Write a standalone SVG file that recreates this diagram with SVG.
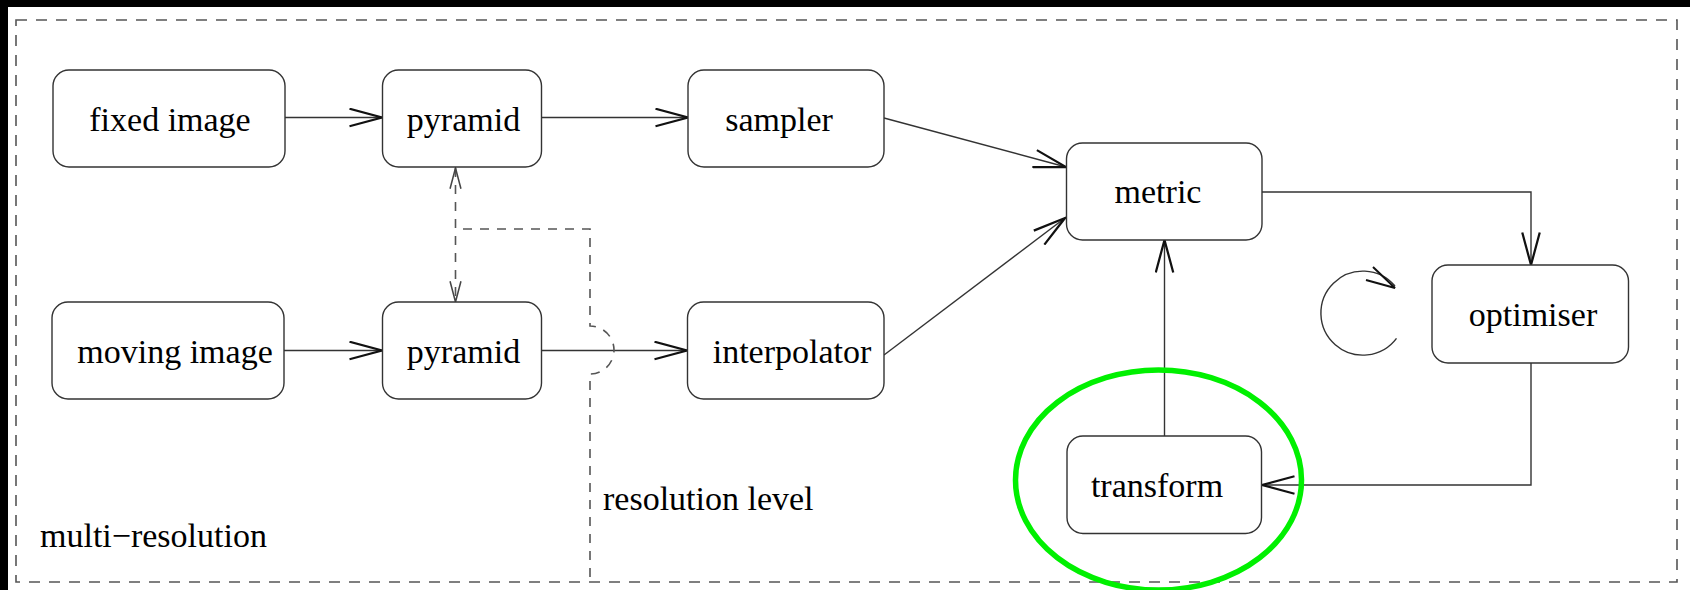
<svg xmlns="http://www.w3.org/2000/svg" width="1690" height="590" viewBox="0 0 1690 590">
<defs>
<style>
.node rect{fill:#fff;stroke:#333;stroke-width:1.4}
text{font-family:"Liberation Serif","Times New Roman",serif;font-size:34px;fill:#000}
.lbl{text-anchor:middle}
.conn{fill:none;stroke:#333;stroke-width:1.4}
.dash{fill:none;stroke:#555;stroke-width:1.6;stroke-dasharray:11 9}
.dash2{fill:none;stroke:#555;stroke-width:1.6;stroke-dasharray:9 8}
.head{fill:none;stroke:#111;stroke-width:1.8}
</style>
<marker id="ah" markerUnits="userSpaceOnUse" markerWidth="40" markerHeight="20" refX="27" refY="8" orient="auto" viewBox="0 0 30 16">
<path d="M1,1 L27,8 L1,15" class="head"/>
</marker>
<marker id="ahs" markerUnits="userSpaceOnUse" markerWidth="24" markerHeight="14" refX="20" refY="6" orient="auto-start-reverse" viewBox="0 0 22 12">
<path d="M1,1 L20,6 L1,11" fill="none" stroke="#444" stroke-width="1.4"/>
</marker>
</defs>
<rect x="0" y="0" width="1690" height="590" fill="#fff"/>
<rect x="0" y="0" width="1690" height="7" fill="#000"/>
<rect x="0" y="0" width="8" height="590" fill="#000"/>

<rect id="frame" x="16" y="20" width="1661" height="562" class="dash"/>

<g id="connectors">
<line x1="285" y1="117.5" x2="382" y2="117.5" class="conn" marker-end="url(#ah)"/>
<line x1="541" y1="117.5" x2="688" y2="117.5" class="conn" marker-end="url(#ah)"/>
<line x1="284" y1="350.5" x2="382" y2="350.5" class="conn" marker-end="url(#ah)"/>
<line x1="541" y1="350.5" x2="687" y2="350.5" class="conn" marker-end="url(#ah)"/>
<line x1="884" y1="118" x2="1066" y2="167" class="conn" marker-end="url(#ah)"/>
<line x1="884" y1="355" x2="1065" y2="218" class="conn" marker-end="url(#ah)"/>
<line x1="1164.5" y1="436" x2="1164.5" y2="240" class="conn" marker-end="url(#ah)"/>
<polyline points="1262,192 1531,192 1531,265" class="conn" marker-end="url(#ah)"/>
<polyline points="1531,363 1531,485 1262,485" class="conn" marker-end="url(#ah)"/>
<line x1="455.5" y1="168" x2="455.5" y2="302" class="dash2" marker-start="url(#ahs)" marker-end="url(#ahs)"/>
<path d="M1396.5,338.3 A42,42 0 1 1 1395,286" class="conn"/>
<path d="M1373,267 L1395,288 L1366,280" fill="none" stroke="#111" stroke-width="2"/>
</g>

<g id="resolution-level">
<path d="M463,229 L590,229 L590,326 A24,24 0 0 1 590,374 L590,582" class="dash2"/>
<text x="603" y="510">resolution level</text>
</g>
<text id="multi-resolution" x="40" y="547">multi−resolution</text>

<g id="fixed-image" class="node"><rect x="53" y="70" width="232" height="97" rx="16"/><text class="lbl" x="170" y="130.5">fixed image</text></g>
<g id="pyramid-fixed" class="node"><rect x="382.5" y="70" width="159" height="97" rx="16"/><text class="lbl" x="463.5" y="130.5">pyramid</text></g>
<g id="sampler" class="node"><rect x="688" y="70" width="196" height="97" rx="16"/><text class="lbl" x="779" y="130.5">sampler</text></g>
<g id="moving-image" class="node"><rect x="52" y="302" width="232" height="97" rx="16"/><text class="lbl" x="175" y="362.5">moving image</text></g>
<g id="pyramid-moving" class="node"><rect x="382.5" y="302" width="159" height="97" rx="16"/><text class="lbl" x="463.5" y="362.5">pyramid</text></g>
<g id="interpolator" class="node"><rect x="687.5" y="302" width="196.5" height="97" rx="16"/><text class="lbl" x="792" y="362.5">interpolator</text></g>
<g id="metric" class="node"><rect x="1066.5" y="143" width="195.5" height="97" rx="16"/><text class="lbl" x="1158" y="203">metric</text></g>
<g id="optimiser" class="node"><rect x="1432" y="265" width="196.5" height="98" rx="16"/><text class="lbl" x="1533" y="326">optimiser</text></g>
<g id="transform" class="node"><rect x="1067" y="436" width="194.5" height="97.5" rx="16"/><text class="lbl" x="1157" y="497">transform</text></g>

<ellipse id="highlight" cx="1158.5" cy="480" rx="143" ry="110" fill="none" stroke="#00f000" stroke-width="5.5"/>
</svg>
